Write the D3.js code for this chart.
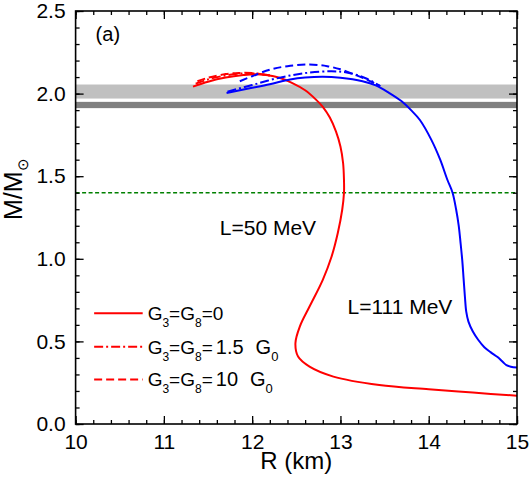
<!DOCTYPE html>
<html>
<head>
<meta charset="utf-8">
<script src="https://cdn.jsdelivr.net/npm/d3@7"></script>
<style>
  body { margin: 0; background: #fff; }
  text { font-family: "Liberation Sans", Arial, sans-serif; fill: #000; }
</style>
</head>
<body>
<div id="chart"></div>
<script>
// M-R curves, [R (km), M/Msun]
// L = 50 MeV
let red0 = [
  [11.33, 2.042], [11.5, 2.072], [11.7, 2.097], [11.9, 2.112], [12.03, 2.117],
  [12.18, 2.111], [12.3, 2.097], [12.45, 2.065], [12.6, 2.02], [12.72, 1.965],
  [12.8, 1.92], [12.88, 1.855], [12.95, 1.77], [13.0, 1.68], [13.03, 1.58],
  [13.04, 1.48], [13.04, 1.398], [13.02, 1.297], [12.97, 1.156], [12.9, 1.014],
  [12.8, 0.873], [12.65, 0.711], [12.54, 0.59], [12.49, 0.489], [12.52, 0.408],
  [12.65, 0.347], [12.92, 0.287], [13.44, 0.236], [14.0, 0.21], [14.5, 0.19],
  [15.0, 0.171]
];
let red15 = [
  [11.36, 2.06], [11.5, 2.086], [11.7, 2.11], [11.9, 2.122], [12.05, 2.121], [12.2, 2.109]
];
let red10 = [
  [11.38, 2.075], [11.5, 2.096], [11.7, 2.118], [11.85, 2.125], [12.0, 2.124], [12.2, 2.109]
];
// L = 111 MeV
let blue0 = [
  [11.71, 2.004], [12.0, 2.035], [12.2, 2.057], [12.43, 2.085], [12.6, 2.097],
  [12.8, 2.102], [13.0, 2.096], [13.25, 2.075], [13.4, 2.05], [13.55, 2.005],
  [13.69, 1.955], [13.8, 1.9], [13.9, 1.84], [14.03, 1.72], [14.13, 1.6],
  [14.21, 1.48], [14.27, 1.4], [14.31, 1.3], [14.34, 1.2], [14.36, 1.1],
  [14.38, 0.99], [14.395, 0.88], [14.41, 0.77], [14.425, 0.68], [14.45, 0.62],
  [14.5, 0.56], [14.56, 0.51], [14.63, 0.465], [14.7, 0.435], [14.78, 0.405],
  [14.84, 0.375], [14.88, 0.356], [14.93, 0.347], [15.0, 0.342]
];
let blue15 = [
  [11.72, 2.012], [12.0, 2.052], [12.3, 2.095], [12.6, 2.124], [12.9, 2.135],
  [13.1, 2.125], [13.3, 2.09], [13.45, 2.045]
];
let blue10 = [
  [11.86, 2.075], [12.0, 2.105], [12.2, 2.145], [12.4, 2.166], [12.65, 2.176],
  [12.85, 2.166], [13.0, 2.147], [13.15, 2.117], [13.3, 2.085], [13.45, 2.045]
];

// observational mass bands [low, high] and canonical mass
let bandLight = [1.97, 2.055];
let bandDark = [1.912, 1.95];
let canonicalMass = 1.4;

let xTicks = [10, 11, 12, 13, 14, 15];
let yTicks = [0.0, 0.5, 1.0, 1.5, 2.0, 2.5];

// legend: coupling values (in units of G0, "" = plain zero)
let legendValues = ["0", "1.5", "10"];

// Set the dimensions of the canvas / graph
let W = 530, H = 486;
let margin = { top: 11, right: 13, bottom: 62, left: 75.6 },
  width = W - margin.left - margin.right,
  height = H - margin.top - margin.bottom;

let x = d3.scaleLinear().domain([10, 15]).range([0, width]);
let y = d3.scaleLinear().domain([0, 2.5]).range([height, 0]);

let svg = d3.select("#chart").append("svg")
  .attr("width", W).attr("height", H)
  .append("g")
  .attr("transform", "translate(" + margin.left + "," + margin.top + ")");

// clip for curves
svg.append("clipPath").attr("id", "clip")
  .append("rect").attr("width", width).attr("height", height);

// mass bands
svg.append("rect")
  .attr("x", 0).attr("width", width)
  .attr("y", y(bandLight[1])).attr("height", y(bandLight[0]) - y(bandLight[1]))
  .attr("fill", "#c0c0c0");
svg.append("rect")
  .attr("x", 0).attr("width", width)
  .attr("y", y(bandDark[1])).attr("height", y(bandDark[0]) - y(bandDark[1]))
  .attr("fill", "#808080");

// 1.4 Msun line
svg.append("line")
  .attr("x1", 0).attr("x2", width)
  .attr("y1", y(canonicalMass)).attr("y2", y(canonicalMass))
  .attr("stroke", "#008000").attr("stroke-width", 1.5)
  .attr("stroke-dasharray", "4,2.5");

let line = d3.line()
  .x(function(d) { return x(d[0]); })
  .y(function(d) { return y(d[1]); })
  .curve(d3.curveCatmullRom.alpha(0.5));

let dashSolid = null, dashDot = "9,3,2,3", dashed = "8,4";

let curves = [
  { data: red0, color: "#ff0000", dash: dashSolid },
  { data: red15, color: "#ff0000", dash: dashDot },
  { data: red10, color: "#ff0000", dash: dashed },
  { data: blue0, color: "#0000ff", dash: dashSolid },
  { data: blue15, color: "#0000ff", dash: dashDot },
  { data: blue10, color: "#0000ff", dash: dashed }
];

curves.forEach(function(c) {
  svg.append("path")
    .datum(c.data)
    .attr("clip-path", "url(#clip)")
    .attr("fill", "none")
    .attr("stroke", c.color)
    .attr("stroke-width", 2)
    .attr("stroke-linejoin", "round")
    .attr("stroke-dasharray", c.dash)
    .attr("d", line);
});

// axes: ticks pointing inward on all four sides
function styleAxis(g) {
  g.select(".domain").remove();
  g.selectAll("line").attr("stroke", "#000").attr("stroke-width", 1.3);
  g.selectAll("text").style("font-size", "21px")
    .style("font-family", "'Liberation Sans', Arial, sans-serif");
}

let xMinor = d3.range(10, 15.0001, 0.2);
let yMinor = d3.range(0, 2.5001, 0.1);

// bottom
svg.append("g").attr("transform", "translate(0," + height + ")")
  .call(d3.axisBottom(x).tickValues(xMinor).tickSize(-4).tickFormat(""))
  .call(styleAxis);
svg.append("g").attr("transform", "translate(0," + height + ")")
  .call(d3.axisBottom(x).tickValues(xTicks).tickSize(-8).tickPadding(10)
    .tickFormat(d3.format("d")))
  .call(styleAxis);
// top
svg.append("g")
  .call(d3.axisTop(x).tickValues(xMinor).tickSize(-4).tickFormat(""))
  .call(styleAxis);
svg.append("g")
  .call(d3.axisTop(x).tickValues(xTicks).tickSize(-8).tickFormat(""))
  .call(styleAxis);
// left
svg.append("g")
  .call(d3.axisLeft(y).tickValues(yMinor).tickSize(-4).tickFormat(""))
  .call(styleAxis);
svg.append("g")
  .call(d3.axisLeft(y).tickValues(yTicks).tickSize(-8).tickPadding(10)
    .tickFormat(d3.format(".1f")))
  .call(styleAxis);
// right
svg.append("g").attr("transform", "translate(" + width + ",0)")
  .call(d3.axisRight(y).tickValues(yMinor).tickSize(-4).tickFormat(""))
  .call(styleAxis);
svg.append("g").attr("transform", "translate(" + width + ",0)")
  .call(d3.axisRight(y).tickValues(yTicks).tickSize(-8).tickFormat(""))
  .call(styleAxis);

// frame
svg.append("rect")
  .attr("width", width).attr("height", height)
  .attr("fill", "none").attr("stroke", "#000").attr("stroke-width", 1.6);

// axis titles
svg.append("text")
  .attr("x", width / 2).attr("y", height + 45)
  .style("text-anchor", "middle").style("font-size", "24px")
  .text("R (km)");

let yl = svg.append("text")
  .attr("transform", "translate(" + (-53.5) + "," + 209 + ") rotate(-90)")
  .style("text-anchor", "start").style("font-size", "25px");
yl.append("tspan").text("M/M");
yl.append("tspan").attr("dy", 6).style("font-size", "15px").text("\u2299");

// panel label
svg.append("text").attr("x", 20).attr("y", 30)
  .style("font-size", "20px").text("(a)");

// curve labels
svg.append("text").attr("x", x(11.633)).attr("y", y(1.142))
  .style("font-size", "21px").text("L=50 MeV");
svg.append("text").attr("x", x(13.08)).attr("y", y(0.667))
  .style("font-size", "21px").text("L=111 MeV");

// legend
let legendM = [0.671, 0.468, 0.27];
let legendDash = [dashSolid, dashDot, dashed];
legendValues.forEach(function(v, i) {
  let ly = y(legendM[i]);
  svg.append("line")
    .attr("x1", x(10.21)).attr("x2", x(10.76))
    .attr("y1", ly).attr("y2", ly)
    .attr("stroke", "#ff0000").attr("stroke-width", 2)
    .attr("stroke-dasharray", legendDash[i]);
  let t = svg.append("text").attr("x", x(10.816)).attr("y", ly + 7)
    .style("font-size", "19px");
  t.append("tspan").text("G");
  t.append("tspan").attr("dy", 7).style("font-size", "12px").text("3");
  t.append("tspan").attr("dy", -7).text("=G");
  t.append("tspan").attr("dy", 7).style("font-size", "12px").text("8");
  t.append("tspan").attr("dy", -7).text("=");
  if (i === 0) {
    t.append("tspan").text(v);
  } else {
    t.append("tspan").attr("dx", 3).style("font-size", "20px").text(v);
    t.append("tspan").attr("dx", 12).style("font-size", "20px").text("G");
    t.append("tspan").attr("dy", 7).style("font-size", "13px").text("0");
  }
});
</script>
</body>
</html>
